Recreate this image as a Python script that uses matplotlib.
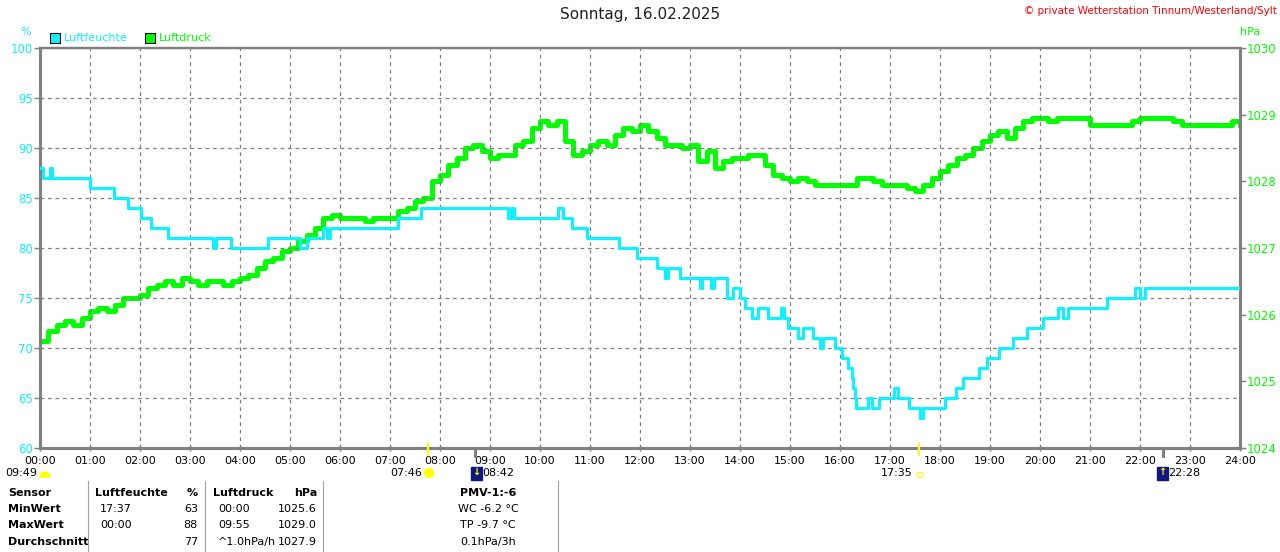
import matplotlib.pyplot as plt
from matplotlib.patches import Rectangle, Circle, Wedge
from matplotlib.transforms import IdentityTransform

# Humidity: change points (minutes after midnight) and values in %
hum_minutes = [0, 4, 12, 14, 60, 89, 106, 121, 133, 154, 208, 211, 229, 274,
               312, 320, 340, 344, 348, 430, 457, 562, 565, 569, 622, 628,
               638, 656, 695, 716, 740, 750, 754, 768, 792, 794, 805, 809,
               824, 832, 840, 846, 854, 862, 874, 889, 893, 898, 910, 916,
               928, 936, 940, 954, 962, 970, 974, 976, 978, 979, 994, 998,
               1007, 1025, 1030, 1043, 1056, 1060, 1086, 1099, 1108, 1127,
               1136, 1151, 1168, 1184, 1204, 1222, 1228, 1234, 1280, 1314,
               1320, 1326, 1440]
hum_values = [88, 87, 88, 87, 86, 85, 84, 83, 82, 81, 80, 81, 80, 81,
              80, 81, 82, 81, 82, 83, 84, 83, 84, 83, 84, 83,
              82, 81, 80, 79, 78, 77, 78, 77, 76, 77, 76, 77,
              75, 76, 75, 74, 73, 74, 73, 74, 73, 72, 71, 72,
              71, 70, 71, 70, 69, 68, 67, 66, 65, 64, 65, 64,
              65, 66, 65, 64, 63, 64, 65, 66, 67, 68,
              69, 70, 71, 72, 73, 74, 73, 74, 75, 76,
              75, 76, 76]

# Air pressure every 10 minutes in hPa
press_values = [
    1025.60, 1025.75, 1025.85, 1025.90, 1025.85, 1025.95, 1026.05, 1026.10,
    1026.05, 1026.15, 1026.25, 1026.25, 1026.30, 1026.40, 1026.45, 1026.50,
    1026.45, 1026.55, 1026.50, 1026.45, 1026.50, 1026.50, 1026.45, 1026.50,
    1026.55, 1026.60, 1026.70, 1026.80, 1026.85, 1026.95, 1027.00, 1027.10,
    1027.20, 1027.30, 1027.45, 1027.50, 1027.45, 1027.45, 1027.45, 1027.40,
    1027.45, 1027.45, 1027.45, 1027.55, 1027.60, 1027.70, 1027.75, 1028.00,
    1028.10, 1028.25, 1028.35, 1028.50, 1028.55, 1028.45, 1028.35, 1028.40,
    1028.40, 1028.55, 1028.60, 1028.80, 1028.90, 1028.85, 1028.90, 1028.60,
    1028.40, 1028.45, 1028.55, 1028.60, 1028.55, 1028.70, 1028.80, 1028.75,
    1028.85, 1028.75, 1028.65, 1028.55, 1028.55, 1028.50, 1028.55, 1028.30,
    1028.45, 1028.20, 1028.30, 1028.35, 1028.35, 1028.40, 1028.40, 1028.25,
    1028.10, 1028.05, 1028.00, 1028.05, 1028.00, 1027.95, 1027.95, 1027.95,
    1027.95, 1027.95, 1028.05, 1028.05, 1028.00, 1027.95, 1027.95, 1027.95,
    1027.90, 1027.85, 1027.95, 1028.05, 1028.15, 1028.25, 1028.35, 1028.40,
    1028.50, 1028.60, 1028.70, 1028.75, 1028.65, 1028.80, 1028.90, 1028.95,
    1028.95, 1028.90, 1028.95, 1028.95, 1028.95, 1028.95, 1028.85, 1028.85,
    1028.85, 1028.85, 1028.85, 1028.90, 1028.95, 1028.95, 1028.95, 1028.95,
    1028.90, 1028.85, 1028.85, 1028.85, 1028.85, 1028.85, 1028.85, 1028.90,
    1028.85]
press_minutes = [10 * i for i in range(len(press_values))]

hour_labels = ["%02d:00" % h for h in range(25)]
hum_ticks = [60, 65, 70, 75, 80, 85, 90, 95, 100]
press_ticks = [1024, 1025, 1026, 1027, 1028, 1029, 1030]

sunrise, sunset = 7 * 60 + 46, 17 * 60 + 35
moonrise, moonset = 22 * 60 + 28, 8 * 60 + 42

table_rows = [
    ["Sensor", "Luftfeuchte", "%", "Luftdruck", "hPa", "PMV-1:-6"],
    ["MinWert", "17:37", "63", "00:00", "1025.6", "WC -6.2 °C"],
    ["MaxWert", "00:00", "88", "09:55", "1029.0", "TP -9.7 °C"],
    ["Durchschnitt", "", "77", "^1.0hPa/h", "1027.9", "0.1hPa/3h"],
]

CYAN = "#10f0ff"
GREEN = "#00ff00"
GRAY = "#808080"
W, H = 1280, 552
PIX = IdentityTransform()  # display pixels, origin bottom-left


def fx(px):
    return px / W


def fy(py):
    return 1 - py / H


def py(y):
    # image row -> display pixel y
    return H - y


fig = plt.figure(figsize=(12.8, 5.52), dpi=100)
ax = fig.add_axes([fx(40), fy(448), 1200 / W, 400 / H])
ax2 = ax.twinx()

ax.plot(hum_minutes, hum_values, drawstyle="steps-post", color=CYAN, lw=2.3, zorder=3)
ax2.plot(press_minutes, press_values, drawstyle="steps-post", color=GREEN, lw=3.6)
ax.set_zorder(ax2.get_zorder() + 1)
ax.patch.set_visible(False)

ax.set_xlim(0, 1440)
ax.set_ylim(60, 100)
ax2.set_ylim(1024, 1030)
ax.set_xticks([60 * h for h in range(25)])
ax.set_xticklabels(hour_labels)
ax.set_yticks(hum_ticks)
ax.set_yticklabels([str(v) for v in hum_ticks])
ax2.set_yticks(press_ticks)
ax2.set_yticklabels([str(v) for v in press_ticks])

ax.grid(True, color=GRAY, linestyle=(0, (3, 3)), linewidth=0.9)
ax.tick_params(axis="x", colors=GRAY, labelcolor="black", labelsize=8, length=4, width=1, direction="inout", pad=4)
ax.tick_params(axis="y", colors=GRAY, labelcolor=CYAN, labelsize=8.5, length=4, width=1, pad=1)
ax2.tick_params(axis="y", colors=GRAY, labelcolor=GREEN, labelsize=8.5, length=4, width=1, pad=1)
for a in (ax, ax2):
    for name, sp in a.spines.items():
        sp.set_color(GRAY)
        sp.set_linewidth(2.2 if name != "top" else 1.6)

# sun / moon markers on the time axis
for m in (sunrise, sunset):
    ax.plot([m, m], [59.3, 60.4], color="#ffff00", lw=1.6, clip_on=False, zorder=5)
for m in (moonset, moonrise):
    ax.plot([m, m], [59.2, 60.0], color=GRAY, lw=2.2, clip_on=False, zorder=5)

# headings
fig.text(0.5, fy(15), "Sonntag, 16.02.2025", ha="center", va="center", fontsize=11, color="#202020")
fig.text(fx(1277), fy(11), "© private Wetterstation Tinnum/Westerland/Sylt", ha="right", va="center",
         fontsize=7.5, color="red")
fig.text(fx(26), fy(32), "%", ha="center", va="center", fontsize=8, color=CYAN)
fig.text(fx(1250), fy(32), "hPa", ha="center", va="center", fontsize=8, color=GREEN)

# legend boxes
for x0, col, lab in [(50, CYAN, "Luftfeuchte"), (145, GREEN, "Luftdruck")]:
    fig.patches.append(Rectangle((x0, py(43)), 10, 10, transform=PIX,
                                 facecolor=col, edgecolor="black", lw=0.8))
    fig.text(fx(x0 + 14), fy(38), lab, ha="left", va="center", fontsize=8, color=col)

# sun / moon labels
fig.text(fx(37), fy(473), "09:49", ha="right", va="center", fontsize=8)
fig.patches.append(Wedge((45, py(477)), 5, 0, 180, transform=PIX, color="#ffff00"))
fig.text(fx(422), fy(473), "07:46", ha="right", va="center", fontsize=8)
fig.patches.append(Circle((429, py(473)), 4.5, transform=PIX, color="#ffff00"))
fig.text(fx(913), fy(473), "17:35", ha="right", va="center", fontsize=8)
fig.patches.append(Rectangle((917, py(477)), 5, 5, transform=PIX,
                             facecolor="none", edgecolor="#ffff00", lw=0.8))
for x0, arrow, lab in [(471, "↓", "08:42"), (1157, "↑", "22:28")]:
    fig.patches.append(Rectangle((x0, py(480)), 11, 13, transform=PIX, color="#101880"))
    fig.text(fx(x0 + 5), fy(472), arrow, ha="center", va="center", fontsize=7,
             fontweight="bold", color="#ffff00")
    fig.text(fx(x0 + 11), fy(473), lab, ha="left", va="center", fontsize=8)

# data table
for xl in (88, 205, 323, 558):
    fig.add_artist(plt.Line2D([fx(xl), fx(xl)], [fy(481), 0], transform=fig.transFigure, color="#a0a0a0", lw=0.8))
col_pos = [(8, "left"), (95, "left"), (198, "right"), (213, "left"), (317, "right"), (488, "center")]
row_y = [493, 509, 525, 542]
for r, row in enumerate(table_rows):
    for c, txt in enumerate(row):
        x0, ha = col_pos[c]
        bold = r == 0 or c == 0
        if r > 0 and c in (1, 3):
            x0 += 5
        fig.text(fx(x0), fy(row_y[r]), txt, ha=ha, va="center", fontsize=8,
                 fontweight="bold" if bold else "normal", color="black")

fig.savefig("out.png", dpi=100)
